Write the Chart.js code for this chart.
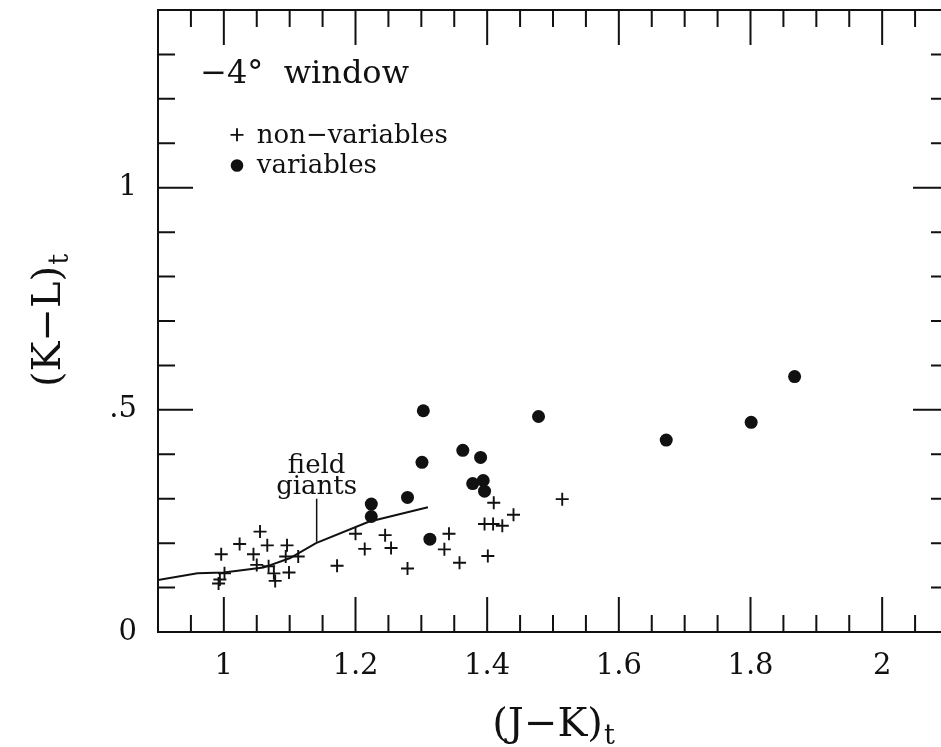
<!DOCTYPE html>
<html>
<head>
<meta charset="utf-8">
<script src="https://cdn.jsdelivr.net/npm/chart.js@4/dist/chart.umd.min.js"></script>
<style>
  html, body { margin: 0; padding: 0; background: #fff; overflow: hidden; }
  #wrap { width: 941px; height: 747px; overflow: hidden; position: relative; }
  canvas { display: block; }
</style>
</head>
<body>
<div id="wrap"><canvas id="c" width="960" height="747" style="width:960px;height:747px"></canvas></div>
<script>
// Non-variable stars: (J-K)t and (K-L)t colours
const nonVarJK = [0.996, 1.001, 0.994, 0.992, 1.024, 1.045, 1.050, 1.055, 1.066, 1.068,
                  1.076, 1.078, 1.094, 1.096, 1.099, 1.113, 1.172, 1.200, 1.214, 1.245,
                  1.254, 1.279, 1.335, 1.342, 1.358, 1.396, 1.401, 1.409, 1.410, 1.423,
                  1.440, 1.514];
const nonVarKL = [0.175, 0.132, 0.118, 0.109, 0.198, 0.175, 0.151, 0.226, 0.195, 0.148,
                  0.132, 0.115, 0.170, 0.195, 0.134, 0.170, 0.149, 0.221, 0.187, 0.218,
                  0.189, 0.143, 0.186, 0.221, 0.156, 0.243, 0.171, 0.243, 0.291, 0.239,
                  0.264, 0.299];

// Variable stars
const varJK = [1.224, 1.224, 1.279, 1.301, 1.303, 1.313, 1.363, 1.378, 1.390, 1.394,
               1.396, 1.478, 1.672, 1.801, 1.867];
const varKL = [0.288, 0.260, 0.303, 0.382, 0.498, 0.209, 0.409, 0.334, 0.393, 0.341,
               0.317, 0.485, 0.432, 0.472, 0.575];

// Field giant sequence
const giantsJK = [0.90, 0.96, 1.00, 1.06, 1.10, 1.14, 1.22, 1.31];
const giantsKL = [0.117, 0.132, 0.134, 0.145, 0.166, 0.200, 0.248, 0.281];

// Axis tick labels
const xTickValues = [1, 1.2, 1.4, 1.6, 1.8, 2];
const xTickText   = ['1', '1.2', '1.4', '1.6', '1.8', '2'];
const yTickValues = [0, 0.5, 1];
const yTickText   = ['0', '.5', '1'];

const SERIF = '"DejaVu Serif", "Liberation Serif", serif';
const INK = '#111';

function pairs(xs, ys) { return xs.map((x, i) => ({ x: x, y: ys[i] })); }

function drawCross(ctx, x, y, r) {
  ctx.beginPath();
  ctx.moveTo(x - r, y); ctx.lineTo(x + r, y);
  ctx.moveTo(x, y - r); ctx.lineTo(x, y + r);
  ctx.stroke();
}

function drawSubText(ctx, main, sub, cx, baseline, mainSize, subSize, drop) {
  ctx.font = mainSize + 'px ' + SERIF;
  const w1 = ctx.measureText(main).width;
  ctx.font = subSize + 'px ' + SERIF;
  const w2 = ctx.measureText(sub).width;
  const x0 = cx - (w1 + w2) / 2;
  ctx.textAlign = 'left';
  ctx.textBaseline = 'alphabetic';
  ctx.font = mainSize + 'px ' + SERIF;
  ctx.fillText(main, x0, baseline);
  ctx.font = subSize + 'px ' + SERIF;
  ctx.fillText(sub, x0 + w1 + 1, baseline + drop);
}

// Frame, inward ticks, axis titles and in-plot labels
const decorations = {
  id: 'decorations',
  afterDraw(chart) {
    const ctx = chart.ctx;
    const a = chart.chartArea;
    const xs = chart.scales.x, ys = chart.scales.y;
    ctx.save();
    ctx.strokeStyle = INK;
    ctx.fillStyle = INK;
    ctx.lineWidth = 2;
    ctx.strokeRect(a.left, a.top, a.right - a.left, a.bottom - a.top);

    // x ticks every 0.05, long ones every 0.2
    for (let i = 18; i <= 42; i++) {
      const px = xs.getPixelForValue(i / 20);
      const len = (i % 4 === 0) ? 35 : 17;
      ctx.beginPath();
      ctx.moveTo(px, a.bottom); ctx.lineTo(px, a.bottom - len);
      ctx.moveTo(px, a.top); ctx.lineTo(px, a.top + len);
      ctx.stroke();
    }
    // y ticks every 0.1, long ones every 0.5
    for (let i = 0; i <= 14; i++) {
      const py = ys.getPixelForValue(i / 10);
      const len = (i % 5 === 0) ? 35 : 17;
      ctx.beginPath();
      ctx.moveTo(a.left, py); ctx.lineTo(a.left + len, py);
      ctx.moveTo(a.right, py); ctx.lineTo(a.right - len, py);
      ctx.stroke();
    }

    // axis titles
    drawSubText(ctx, '(J\u2212K)', 't', (a.left + a.right) / 2, 736, 40, 27, 8);
    ctx.save();
    ctx.translate(60, (a.top + a.bottom) / 2);
    ctx.rotate(-Math.PI / 2);
    drawSubText(ctx, '(K\u2212L)', 't', 0, 0, 40, 27, 8);
    ctx.restore();

    // window label
    ctx.textAlign = 'left';
    ctx.textBaseline = 'alphabetic';
    ctx.font = '32px ' + SERIF;
    ctx.fillText('\u22124\u00b0  window', xs.getPixelForValue(0.964), ys.getPixelForValue(1.236));

    // key
    ctx.lineWidth = 1.9;
    drawCross(ctx, xs.getPixelForValue(1.020), ys.getPixelForValue(1.119), 6.5);
    ctx.beginPath();
    ctx.arc(xs.getPixelForValue(1.020), ys.getPixelForValue(1.050), 6.3, 0, Math.PI * 2);
    ctx.fill();
    ctx.font = '26px ' + SERIF;
    ctx.fillText('non\u2212variables', xs.getPixelForValue(1.050), ys.getPixelForValue(1.100));
    ctx.fillText('variables', xs.getPixelForValue(1.050), ys.getPixelForValue(1.033));

    // field giants label with pointer
    const gx = xs.getPixelForValue(1.141);
    ctx.textAlign = 'center';
    ctx.fillText('field', gx, ys.getPixelForValue(0.357));
    ctx.fillText('giants', gx, ys.getPixelForValue(0.310));
    ctx.lineWidth = 1.5;
    ctx.beginPath();
    ctx.moveTo(gx, ys.getPixelForValue(0.300));
    ctx.lineTo(gx, ys.getPixelForValue(0.203));
    ctx.stroke();
    ctx.restore();
  }
};

const chart = new Chart(document.getElementById('c').getContext('2d'), {
  type: 'scatter',
  data: {
    datasets: [
      {
        label: 'field giants',
        data: pairs(giantsJK, giantsKL),
        showLine: true,
        pointRadius: 0,
        borderColor: INK,
        borderWidth: 2,
        tension: 0,
        fill: false
      },
      {
        label: 'non-variables',
        data: pairs(nonVarJK, nonVarKL),
        pointStyle: 'cross',
        pointRadius: 6.5,
        borderColor: INK,
        backgroundColor: INK,
        borderWidth: 1.9
      },
      {
        label: 'variables',
        data: pairs(varJK, varKL),
        pointStyle: 'circle',
        pointRadius: 6.5,
        borderColor: INK,
        backgroundColor: INK,
        borderWidth: 0
      }
    ]
  },
  options: {
    responsive: false,
    animation: false,
    devicePixelRatio: 1,
    layout: { padding: { left: 0, top: 10, right: 12, bottom: 0 } },
    plugins: { legend: { display: false }, tooltip: { enabled: false } },
    scales: {
      x: {
        type: 'linear',
        position: 'bottom',
        min: 0.9,
        max: 2.1,
        afterBuildTicks: s => { s.ticks = xTickValues.map(v => ({ value: v })); },
        afterFit: s => { s.height = 115; s.paddingLeft = 0; s.paddingRight = 0; },
        grid: { display: false, drawTicks: false },
        border: { display: false },
        ticks: {
          callback: v => { const i = xTickValues.indexOf(v); return i >= 0 ? xTickText[i] : ''; },
          font: { family: SERIF, size: 29 },
          color: INK,
          padding: 17,
          maxRotation: 0,
          autoSkip: false
        }
      },
      y: {
        type: 'linear',
        min: 0,
        max: 1.4,
        afterBuildTicks: s => { s.ticks = yTickValues.map(v => ({ value: v })); },
        afterFit: s => { s.width = 158; s.paddingTop = 0; s.paddingBottom = 0; },
        grid: { display: false, drawTicks: false },
        border: { display: false },
        ticks: {
          callback: v => { const i = yTickValues.indexOf(v); return i >= 0 ? yTickText[i] : ''; },
          font: { family: SERIF, size: 29 },
          color: INK,
          padding: 21,
          autoSkip: false
        }
      }
    }
  },
  plugins: [decorations]
});
</script>
</body>
</html>
